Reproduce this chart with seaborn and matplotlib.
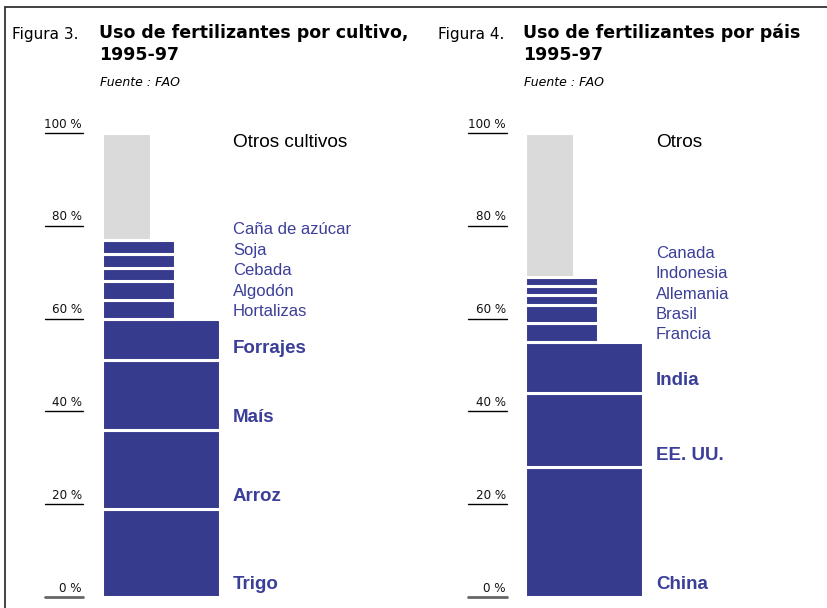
import matplotlib
matplotlib.use("Agg")
import matplotlib.pyplot as plt
import seaborn as sns

# ===== DATA =====
cultivos = ["Trigo", "Arroz", "Maís", "Forrajes", "Hortalizas", "Algodón",
            "Cebada", "Soja", "Caña de azúcar", "Otros cultivos"]
cultivo_pct = [19, 17, 15, 9, 4, 4, 3, 3, 3, 23]
cultivo_tipo = ["mayor"] * 4 + ["menor"] * 5 + ["otros"]

paises = ["China", "EE. UU.", "India", "Francia", "Brasil", "Allemania",
          "Indonesia", "Canada", "Otros"]
pais_pct = [28, 16, 11, 4, 4, 2, 2, 2, 31]
pais_tipo = ["mayor"] * 3 + ["menor"] * 5 + ["otros"]

ticks = [0, 20, 40, 60, 80, 100]
tick_labels = ["0 %", "20 %", "40 %", "60 %", "80 %", "100 %"]

# ===== STYLE =====
sns.set_theme(style="white")
plt.rcParams["font.family"] = ["Liberation Sans", "DejaVu Sans"]
plt.rcParams["text.color"] = "black"

AZUL = "#373b8e"
AZUL_TXT = "#3b3f98"
GRIS = "#dadada"
colores = {"mayor": AZUL, "menor": AZUL, "otros": GRIS}
anchos = {"mayor": 114, "menor": 69, "otros": 45}

W, H = 828, 608
fig = plt.figure(figsize=(W / 100, H / 100), dpi=100)


def panel(ax, nombres, pcts, tipos, tick_x, bar_x0):
    lw = 2.2
    pad = lw / 72 * 100 / 2
    base = 0
    bases = []
    for nombre, v, t in zip(nombres, pcts, tipos):
        w = anchos[t] + 2 * pad
        sns.barplot(x=[bar_x0 - pad + w / 2], y=[v], native_scale=True,
                    orient="x", width=w, bottom=base, color=colores[t],
                    saturation=1, edgecolor="white", linewidth=lw, ax=ax)
        bases.append(base)
        base += v

    # ticks
    for t, lab in zip(ticks, tick_labels):
        c, w = ("#666666", 2.0) if t == 0 else ("black", 1.0)
        ax.plot(tick_x, [t, t], color=c, lw=w, clip_on=False)
        ax.text(tick_x[1] - 1, t + 0.5, lab, ha="right", va="bottom",
                fontsize=9.5, color="#111111", fontstretch="condensed",
                family=["Liberation Sans Narrow", "DejaVu Sans"])

    # labels
    lx = bar_x0 + 129
    menores = [i for i, t in enumerate(tipos) if t == "menor"]
    y0 = bases[menores[0]] + 1.5
    for k, i in enumerate(menores):
        ax.text(lx, y0 + k * 4.4, nombres[i], ha="left", va="center",
                fontsize=12, color=AZUL_TXT)
    for i, t in enumerate(tipos):
        if t == "mayor":
            ax.text(lx, bases[i] + 2.6, nombres[i], ha="left", va="center",
                    fontsize=13.5, fontweight="bold", color=AZUL_TXT)
        elif t == "otros":
            ax.text(lx, 98, nombres[i], ha="left", va="center",
                    fontsize=13.7, color="black")

    ax.set_xlim(0, 414)
    ax.set_ylim(0, 100)
    ax.axis("off")


ax1 = fig.add_axes([0, 11 / H, 414 / W, 464 / H])
ax2 = fig.add_axes([414 / W, 11 / H, 414 / W, 464 / H])
panel(ax1, cultivos, cultivo_pct, cultivo_tipo, [45, 83], 104)
panel(ax2, paises, pais_pct, pais_tipo, [54, 93], 113)

# ===== TITLES =====
def ftext(x, y, s, **kw):
    fig.text(x / W, 1 - y / H, s, va="center", ha="left", color="black",
             family=["DejaVu Sans"], **kw)

ftext(12, 34, "Figura 3.", fontsize=11)
ftext(99, 33, "Uso de fertilizantes por cultivo,", fontsize=12.5, fontweight="bold")
ftext(99, 55, "1995-97", fontsize=12.5, fontweight="bold")
ftext(100, 82, "Fuente : FAO", fontsize=9, style="italic")

ftext(438, 34, "Figura 4.", fontsize=11)
ftext(523, 33, "Uso de fertilizantes por páis", fontsize=12.5, fontweight="bold")
ftext(523, 55, "1995-97", fontsize=12.5, fontweight="bold")
ftext(524, 82, "Fuente : FAO", fontsize=9, style="italic")

# frame
fig.add_artist(plt.Line2D([5 / W, 1], [1 - 7 / H] * 2, transform=fig.transFigure,
                          color="#333333", lw=1.3))
fig.add_artist(plt.Line2D([5 / W] * 2, [0, 1 - 7 / H], transform=fig.transFigure,
                          color="#333333", lw=1.3))

fig.savefig("out.png", dpi=100)
plt.close()
